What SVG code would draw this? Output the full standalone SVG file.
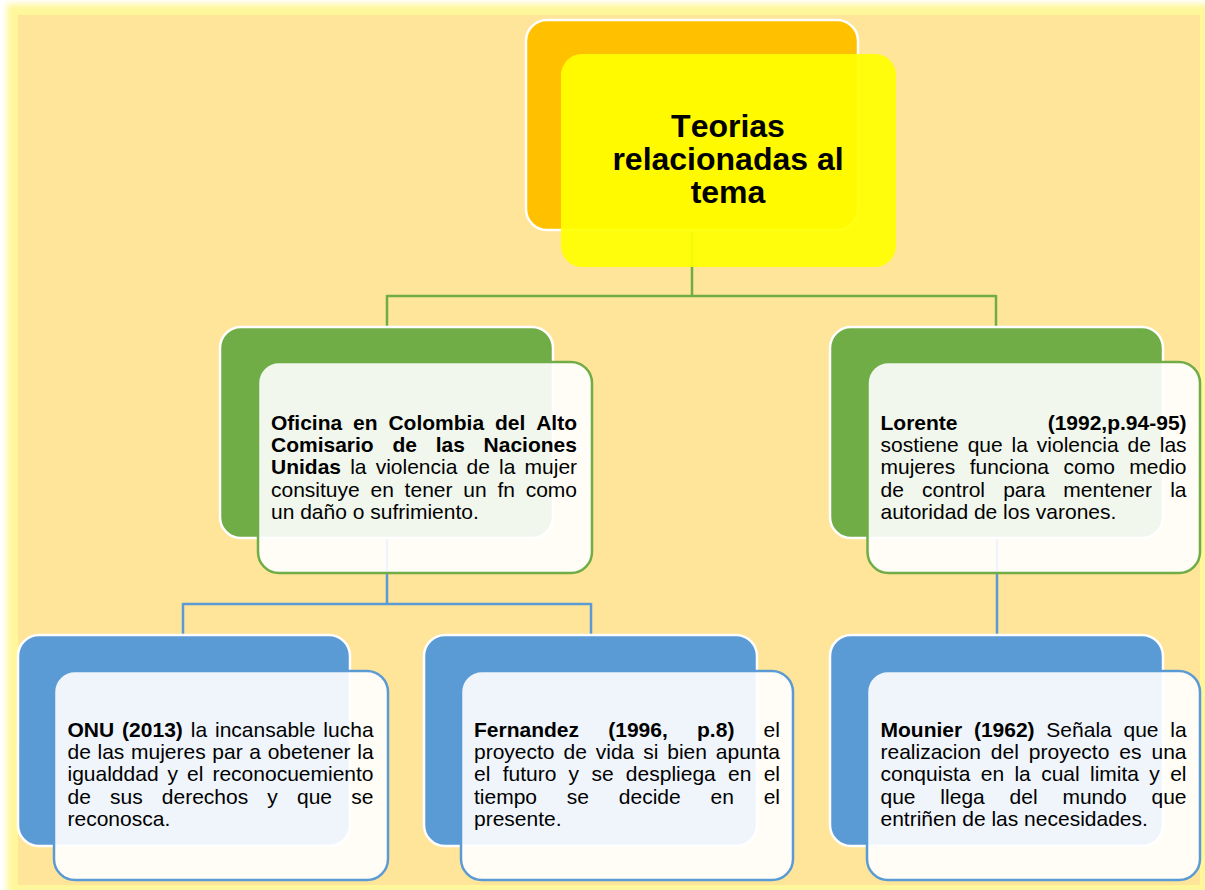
<svg xmlns="http://www.w3.org/2000/svg" width="1205" height="890" viewBox="0 0 1205 890">
<style>
text{font-family:"Liberation Sans",Arial,sans-serif;fill:#000;font-kerning:none}
.t{font-size:21px}
.b{font-weight:bold}
.title{font-size:32px;font-weight:bold;text-anchor:middle}
.gback{fill:#70AD47;stroke:#FFFFFF;stroke-width:2.5}
.bback{fill:#5B9BD5;stroke:#FFFFFF;stroke-width:2.5}
.gfront{fill:#FFFFFF;fill-opacity:0.9;stroke:#70AD47;stroke-width:2.5}
.bfront{fill:#FFFFFF;fill-opacity:0.9;stroke:#5B9BD5;stroke-width:2.5}
.gcon{fill:none;stroke:#70AD47;stroke-width:2.5}
.bcon{fill:none;stroke:#5B9BD5;stroke-width:2.5}
</style>
<defs>
<filter id="glow" x="-5%" y="-5%" width="110%" height="110%"><feGaussianBlur stdDeviation="3"/></filter>
</defs>
<rect x="0" y="0" width="1205" height="890" fill="#FFFFFF"/>
<rect x="7" y="4" width="1203" height="890" fill="#FFF799" filter="url(#glow)"/>
<rect x="18" y="15" width="1182" height="870" fill="#FFE599"/>

<g id="connectors">
<path class="gcon" d="M692,230 V296 M387,296 H996 M387,295 V327 M996,295 V327"/>
<path class="bcon" d="M387,538 V604 M183,604 H591 M183,603 V635 M591,603 V635"/>
<path class="bcon" d="M997,538 V635"/>
</g>

<g id="node-root">
<rect x="526" y="20" width="332" height="210" rx="21" fill="#FFC000" stroke="#FFFFFF" stroke-width="2.5"/>
<rect x="561" y="54" width="335" height="213" rx="21" fill="#FFFF00" fill-opacity="0.92"/>
<text class="title" x="728" y="137">Teorias</text>
<text class="title" x="728" y="170">relacionadas al</text>
<text class="title" x="728" y="203">tema</text>
</g>

<g id="node-oficina">
<rect class="gback" x="220" y="327" width="333" height="211" rx="21"/>
<rect class="gfront" x="258" y="362" width="334" height="211" rx="21"/>
<text class="t b" x="271" y="430" word-spacing="5.03">Oficina en Colombia del Alto</text>
<text class="t b" x="271" y="452.2" word-spacing="12.9">Comisario de las Naciones</text>
<text class="t" x="271" y="474.4" word-spacing="3.32"><tspan class="b">Unidas</tspan> la violencia de la mujer</text>
<text class="t" x="271" y="496.6" word-spacing="4.94">consituye en tener un fn como</text>
<text class="t" x="271" y="518.8">un daño o sufrimiento.</text>
</g>

<g id="node-lorente">
<rect class="gback" x="830" y="327" width="333" height="211" rx="21"/>
<rect class="gfront" x="867.5" y="362" width="332.5" height="211" rx="21"/>
<text class="t b" x="880.5" y="430" word-spacing="84.3">Lorente (1992,p.94-95)</text>
<text class="t" x="880.5" y="452.2" word-spacing="3.08">sostiene que la violencia de las</text>
<text class="t" x="880.5" y="474.4" word-spacing="8.63">mujeres funciona como medio</text>
<text class="t" x="880.5" y="496.6" word-spacing="12.3">de control para mentener la</text>
<text class="t" x="880.5" y="518.8">autoridad de los varones.</text>
</g>

<g id="node-onu">
<rect class="bback" x="18" y="635" width="332" height="211" rx="21"/>
<rect class="bfront" x="54" y="671" width="334" height="209" rx="21"/>
<text class="t" x="67.5" y="737" word-spacing="2.1"><tspan class="b">ONU (2013)</tspan> la incansable lucha</text>
<text class="t" x="67.5" y="759.2" word-spacing="0.82">de las mujeres par a obetener la</text>
<text class="t" x="67.5" y="781.4" word-spacing="3.17">igualddad y el reconocuemiento</text>
<text class="t" x="67.5" y="803.6" word-spacing="13.3">de sus derechos y que se</text>
<text class="t" x="67.5" y="825.8">reconosca.</text>
</g>

<g id="node-fernandez">
<rect class="bback" x="424" y="635" width="333" height="211" rx="21"/>
<rect class="bfront" x="461" y="671" width="332" height="209" rx="21"/>
<text class="t" x="474" y="737" word-spacing="23.4"><tspan class="b">Fernandez (1996, p.8)</tspan> el</text>
<text class="t" x="474" y="759.2" word-spacing="3.07">proyecto de vida si bien apunta</text>
<text class="t" x="474" y="781.4" word-spacing="6.45">el futuro y se despliega en el</text>
<text class="t" x="474" y="803.6" word-spacing="23.97">tiempo se decide en el</text>
<text class="t" x="474" y="825.8">presente.</text>
</g>

<g id="node-mounier">
<rect class="bback" x="830" y="635" width="333" height="211" rx="21"/>
<rect class="bfront" x="867" y="671" width="333" height="209" rx="21"/>
<text class="t" x="880.5" y="737" word-spacing="5.9"><tspan class="b">Mounier (1962)</tspan> Señala que la</text>
<text class="t" x="880.5" y="759.2" word-spacing="4.13">realizacion del proyecto es una</text>
<text class="t" x="880.5" y="781.4" word-spacing="4.51">conquista en la cual limita y el</text>
<text class="t" x="880.5" y="803.6" word-spacing="19">que llega del mundo que</text>
<text class="t" x="880.5" y="825.8">entriñen de las necesidades.</text>
</g>
</svg>
